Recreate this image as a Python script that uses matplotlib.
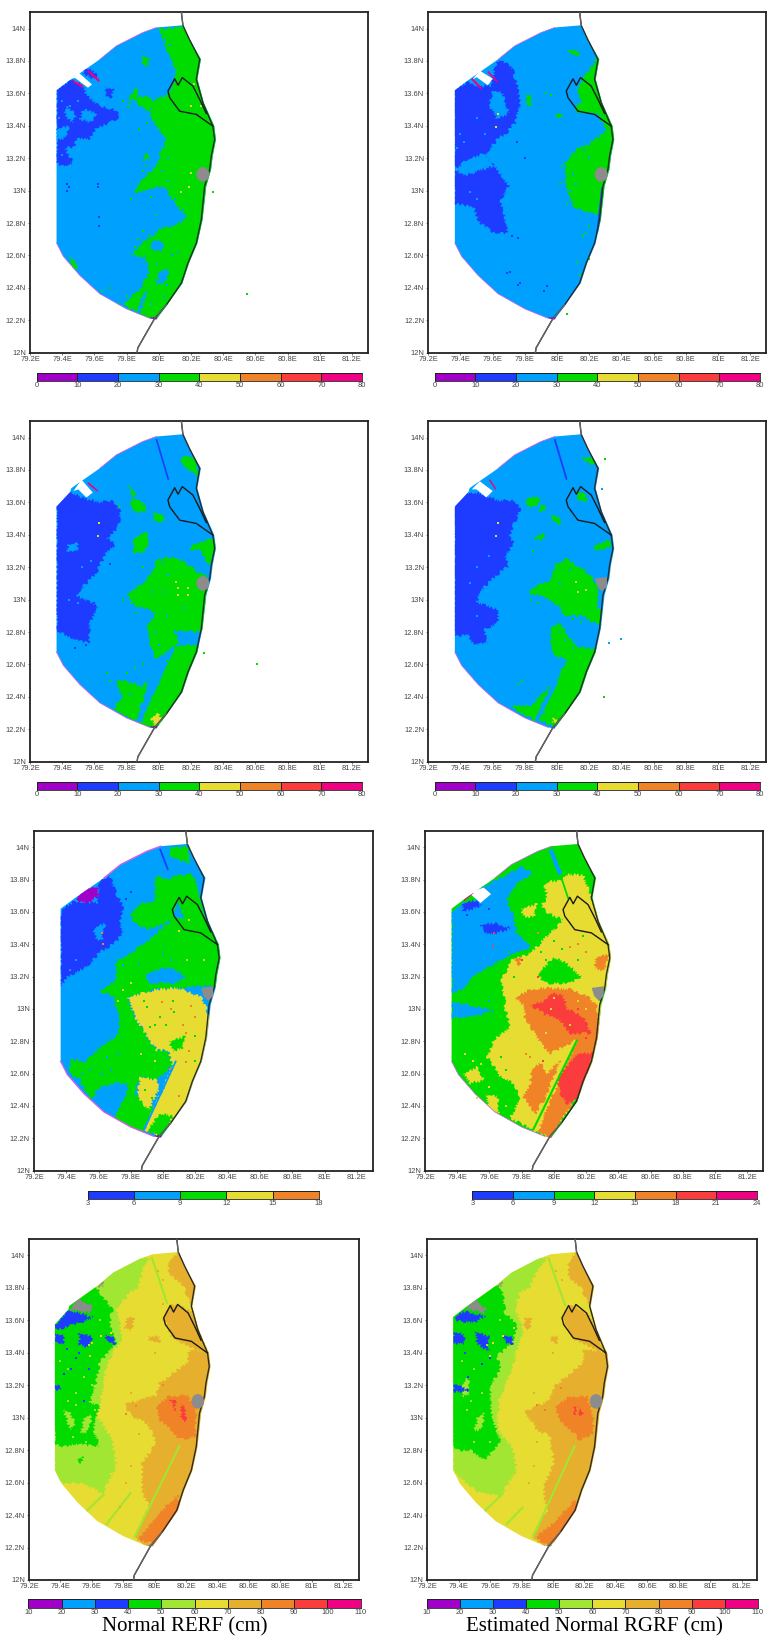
import matplotlib
matplotlib.use("Agg")
import matplotlib.pyplot as plt
from matplotlib.patches import Ellipse, Polygon

W, H = 767, 1638

COLORS = {
    "pu": "#a000c8", "sk": "#00a0ff", "bl": "#1e3cff", "gr": "#00dc00", "li": "#a0e632",
    "ye": "#e6dc32", "go": "#e6af2d", "or": "#f08228", "re": "#fa3c3c", "ma": "#f00082",
    "wh": "#ffffff", "ga": "#8c8c8c",
}

xtick_vals = [79.2, 79.4, 79.6, 79.8, 80, 80.2, 80.4, 80.6, 80.8, 81, 81.2]
xtick_labels = ["79.2E", "79.4E", "79.6E", "79.8E", "80E", "80.2E", "80.4E", "80.6E", "80.8E", "81E", "81.2E"]
ytick_vals = [12, 12.2, 12.4, 12.6, 12.8, 13, 13.2, 13.4, 13.6, 13.8, 14]
ytick_labels = ["12N", "12.2N", "12.4N", "12.6N", "12.8N", "13N", "13.2N", "13.4N", "13.6N", "13.8N", "14N"]

# radar coverage outline, lon/lat
domain = [(79.365, 13.62), (79.46, 13.69), (79.634, 13.81), (79.737, 13.893), (79.9, 13.975), (79.985, 14.006),
          (80.15, 14.02), (80.19, 13.934), (80.262, 13.81), (80.24, 13.687), (80.28, 13.542), (80.345, 13.398),
          (80.355, 13.315), (80.335, 13.212), (80.325, 13.13), (80.295, 13.027), (80.272, 12.82), (80.24, 12.676),
          (80.188, 12.553), (80.147, 12.429), (80.052, 12.295), (79.985, 12.205), (79.944, 12.212), (79.8, 12.27),
          (79.634, 12.363), (79.51, 12.476), (79.407, 12.594), (79.365, 12.676)]
coast = [(80.14, 14.105), (80.15, 14.02), (80.19, 13.934), (80.254, 13.81), (80.233, 13.687), (80.274, 13.542),
         (80.336, 13.398), (80.347, 13.315), (80.326, 13.212), (80.316, 13.13), (80.285, 13.027), (80.264, 12.82),
         (80.233, 12.676), (80.181, 12.553), (80.14, 12.429), (80.047, 12.295), (79.975, 12.212), (79.87, 12.03),
         (79.865, 12.0)]
district = [(80.295, 13.476), (80.254, 13.563), (80.212, 13.645), (80.146, 13.697), (80.12, 13.65), (80.099, 13.69),
            (80.057, 13.614), (80.068, 13.573), (80.13, 13.49), (80.233, 13.47), (80.336, 13.398)]
nw_arc = [(79.634, 13.81), (79.737, 13.893), (79.9, 13.975), (79.985, 14.006)]
sw_arc = [(79.944, 12.212), (79.8, 12.27), (79.634, 12.363), (79.51, 12.476), (79.407, 12.594), (79.365, 12.676)]
gray_disc = (80.274, 13.10)
gray_poly = [(80.235, 13.13), (80.31, 13.14), (80.31, 13.08), (80.28, 13.05), (80.25, 13.08)]
corner_cut = [(79.3, 13.66), (79.3, 13.575), (79.365, 13.575), (79.45, 13.665), (79.47, 13.74), (79.4, 13.74)]

# panel 1, top left
p1_layers = [
    ("gr", [(80.0, 14.0), (80.05, 13.87), (80.11, 13.73), (80.07, 13.6), (79.96, 13.56), (79.94, 13.46), (80.01, 13.36),
            (80.05, 13.32), (80.01, 13.23), (79.985, 13.15), (79.92, 13.09), (79.88, 13.05), (79.84, 12.98), (79.92, 13.01),
            (80.03, 13.03), (80.09, 12.94), (80.17, 12.84), (80.13, 12.8), (80.01, 12.76), (79.9, 12.68), (79.83, 12.6),
            (79.92, 12.59), (79.94, 12.49), (79.88, 12.39), (79.78, 12.29), (79.94, 12.21), (80.46, 12.21), (80.46, 14.03)]),
    ("gr", [(79.84, 13.63), (79.87, 13.63), (79.87, 13.57), (79.93, 13.59), (79.98, 13.53), (79.93, 13.49), (79.88, 13.53),
            (79.84, 13.57), (79.81, 13.51)]),
    ("gr", [(79.9, 13.83), (79.94, 13.82), (79.93, 13.77), (79.89, 13.78)]),
    ("gr", [(79.92, 13.24), (79.95, 13.2), (79.9, 13.19)]),
    ("gr", [(79.45, 12.6), (79.5, 12.53), (79.46, 12.51)]),
    ("sk", [(79.96, 12.7), (80.03, 12.68), (80.02, 12.62), (79.95, 12.64)]),
    ("sk", [(80.0, 12.5), (80.06, 12.52), (80.05, 12.44), (79.99, 12.42)]),
    ("bl", [(79.365, 13.62), (79.46, 13.69), (79.52, 13.65), (79.56, 13.58), (79.63, 13.52), (79.72, 13.5), (79.76, 13.46),
            (79.7, 13.42), (79.61, 13.39), (79.57, 13.32), (79.49, 13.32), (79.47, 13.26), (79.41, 13.27), (79.47, 13.17),
            (79.41, 13.15), (79.365, 13.17)]),
    ("sk", [(79.41, 13.48), (79.43, 13.52), (79.49, 13.46), (79.46, 13.42)]),
    ("sk", [(79.53, 13.5), (79.61, 13.48), (79.59, 13.42), (79.51, 13.44)]),
    ("sk", [(79.365, 13.38), (79.44, 13.4), (79.43, 13.33), (79.365, 13.31)]),
    ("bl", [(79.53, 13.76), (79.59, 13.74), (79.63, 13.69), (79.59, 13.69), (79.53, 13.725)]),
    ("bl", [(79.675, 13.635), (79.72, 13.625), (79.7, 13.57), (79.665, 13.585)]),
    ("sk", [(79.86, 12.24), (79.91, 12.38), (79.93, 12.38), (79.88, 12.23)]),
    ("wh", [(79.46, 13.69), (79.5, 13.73), (79.585, 13.655), (79.56, 13.635), (79.48, 13.695)]),
    ("pu", [(79.95, 12.22), (80.0, 12.22), (79.98, 12.19), (79.95, 12.19)]),
]
p1_strips = [("sk", [(79.985, 14.0), (80.06, 13.76)], 3), ("ma", [(79.47, 13.675), (79.53, 13.64)], 1.5),
             ("ma", [(79.56, 13.74), (79.63, 13.675)], 1.5)]
p1_specks = [("ye", [(80.2, 13.11), (80.19, 13.02), (80.14, 12.99), (80.22, 13.66), (80.26, 13.52), (80.2, 13.52)]),
             ("bl", [(79.43, 13.04), (79.43, 13.0), (79.63, 12.84), (79.63, 12.78), (79.62, 13.04), (79.62, 13.02), (79.44, 13.02)]),
             ("gr", [(80.55, 12.36), (80.34, 12.99), (79.92, 13.15), (79.9, 13.12), (79.86, 13.0), (79.83, 12.95), (79.95, 12.96),
                     (79.98, 12.85), (79.9, 12.75), (79.85, 12.65), (79.8, 12.35), (79.75, 12.3), (79.65, 12.38), (79.7, 12.4),
                     (79.93, 13.42), (79.88, 13.38), (79.78, 13.55), (79.97, 13.03), (79.94, 12.72), (79.87, 12.7)]),
             ("sk", [(80.0, 13.3), (80.03, 13.26), (80.06, 13.2), (80.02, 13.12), (80.06, 13.06), (80.1, 12.95), (80.05, 12.9),
                     (80.15, 12.88), (79.99, 12.55), (80.02, 12.5), (80.05, 12.42), (79.98, 12.45), (80.03, 12.35), (79.95, 12.3),
                     (80.08, 12.6), (80.12, 12.62), (80.03, 13.75), (80.07, 13.9), (80.04, 13.93), (79.4, 13.55), (79.45, 13.52),
                     (79.38, 13.45), (79.5, 13.55), (79.55, 13.5), (79.45, 13.25), (79.4, 13.22)])]

# panel 2, top right
p2_layers = [
    ("gr", [(80.165, 13.975), (80.25, 13.83), (80.22, 13.77), (80.155, 13.69), (80.13, 13.625), (80.145, 13.54), (80.1, 13.51),
            (80.145, 13.48), (80.25, 13.47), (80.31, 13.37), (80.21, 13.295), (80.12, 13.255), (80.05, 13.17), (80.05, 13.07),
            (80.08, 12.965), (80.11, 12.89), (80.23, 12.86), (80.27, 12.86), (80.25, 12.74), (80.37, 12.74), (80.37, 13.975)]),
    ("gr", [(80.07, 13.87), (80.14, 13.86), (80.13, 13.83), (80.08, 13.84)]),
    ("gr", [(79.81, 13.59), (79.84, 13.59), (79.84, 13.53), (79.81, 13.53)]),
    ("gr", [(79.99, 13.48), (80.04, 13.47), (80.03, 13.45), (79.99, 13.46)]),
    ("bl", [(79.36, 13.62), (79.45, 13.67), (79.52, 13.64), (79.59, 13.65), (79.62, 13.77), (79.64, 13.81), (79.72, 13.76),
            (79.75, 13.65), (79.77, 13.54), (79.74, 13.42), (79.69, 13.36), (79.63, 13.32), (79.55, 13.21), (79.63, 13.13),
            (79.7, 13.03), (79.65, 12.94), (79.67, 12.86), (79.69, 12.74), (79.61, 12.74), (79.52, 12.8), (79.48, 12.9),
            (79.36, 12.92)]),
    ("sk", [(79.44, 13.19), (79.55, 13.23), (79.61, 13.15), (79.5, 13.12), (79.42, 13.09), (79.37, 13.13)]),
    ("sk", [(79.6, 13.62), (79.66, 13.6), (79.7, 13.48), (79.63, 13.44), (79.58, 13.53)]),
    ("wh", [(79.47, 13.68), (79.52, 13.74), (79.6, 13.69), (79.57, 13.65), (79.5, 13.7)]),
    ("pu", [(79.95, 12.22), (80.0, 12.22), (79.98, 12.19), (79.95, 12.19)]),
]
p2_strips = [("ma", [(79.47, 13.69), (79.53, 13.63)], 1.5), ("ma", [(79.57, 13.735), (79.63, 13.67)], 1.2),
             ("bl", [(80.28, 13.02), (80.25, 12.74)], 1.2)]
p2_specks = [("bl", [(79.69, 12.49), (79.71, 12.5), (79.77, 12.43), (79.76, 12.42), (79.94, 12.41), (79.92, 12.38), (79.8, 13.2),
                     (79.75, 13.3), (79.72, 12.72), (79.76, 12.71)]),
             ("ye", [(79.63, 13.47), (79.62, 13.39)]),
             ("gr", [(79.93, 13.6), (79.96, 13.59), (80.13, 12.56), (80.06, 12.24), (80.03, 13.15), (80.02, 13.05), (80.06, 12.92),
                     (80.2, 12.78), (80.16, 12.72), (80.18, 12.74), (80.2, 12.58), (80.14, 12.48)]),
             ("sk", [(79.4, 13.35), (79.42, 13.3), (79.38, 13.26), (79.46, 12.99), (79.5, 12.95), (79.55, 13.35), (79.5, 13.45),
                     (80.1, 13.1), (80.12, 13.04), (80.2, 13.2), (80.17, 13.25), (80.08, 13.0)])]

# panel 3, second row left
p3_layers = [
    ("gr", [(79.8, 13.03), (79.9, 13.1), (79.97, 13.185), (79.985, 13.25), (80.11, 13.26), (80.22, 13.185), (80.3, 13.14),
            (80.3, 12.835), (80.27, 12.8), (80.09, 12.81), (80.13, 12.73), (80.07, 12.69), (79.985, 12.63), (79.94, 12.73),
            (79.93, 12.835), (79.985, 12.92), (79.86, 12.96)]),
    ("gr", [(80.09, 12.71), (80.3, 12.73), (80.3, 12.57), (80.05, 12.2), (79.87, 12.2), (79.96, 12.4)]),
    ("gr", [(79.74, 12.36), (79.78, 12.4), (79.73, 12.485), (79.76, 12.505), (79.84, 12.485), (79.9, 12.46), (79.94, 12.515),
            (79.86, 12.25), (79.72, 12.32)]),
    ("gr", [(80.14, 13.89), (80.23, 13.87), (80.25, 13.76), (80.15, 13.825)]),
    ("gr", [(79.84, 13.63), (79.9, 13.6), (79.93, 13.54), (79.86, 13.54), (79.82, 13.58)]),
    ("gr", [(79.81, 13.71), (79.86, 13.65), (79.83, 13.635)]),
    ("gr", [(79.975, 13.54), (80.04, 13.515), (80.01, 13.465), (79.965, 13.495)]),
    ("gr", [(79.85, 13.38), (79.92, 13.42), (79.945, 13.35), (79.9, 13.29), (79.84, 13.29)]),
    ("gr", [(80.22, 13.34), (80.34, 13.38), (80.36, 13.35), (80.32, 13.205), (80.25, 13.31), (80.19, 13.31)]),
    ("bl", [(79.365, 13.58), (79.44, 13.67), (79.52, 13.63), (79.63, 13.6), (79.72, 13.61), (79.76, 13.54), (79.75, 13.45),
            (79.675, 13.38), (79.73, 13.34), (79.675, 13.29), (79.61, 13.165), (79.53, 13.08), (79.49, 13.02), (79.63, 12.96),
            (79.57, 12.855), (79.57, 12.73), (79.49, 12.75), (79.365, 12.81)]),
    ("sk", [(79.44, 13.34), (79.5, 13.35), (79.49, 13.3), (79.43, 13.29)]),
    ("sk", [(79.56, 13.09), (79.62, 13.05), (79.56, 13.0)]),
    ("ye", [(79.95, 12.27), (80.0, 12.3), (80.02, 12.24), (79.98, 12.22)]),
    ("wh", [(79.47, 13.67), (79.52, 13.74), (79.59, 13.66), (79.55, 13.63), (79.5, 13.68)]),
    ("wh", corner_cut),
    ("pu", [(79.95, 12.22), (80.0, 12.22), (79.98, 12.19), (79.95, 12.19)]),
]
p3_strips = [("bl", [(79.985, 13.99), (80.06, 13.74)], 1.2), ("sk", [(79.87, 12.25), (80.09, 12.7)], 2.5),
             ("ma", [(79.56, 13.72), (79.62, 13.67)], 1.2)]
p3_specks = [("ye", [(80.11, 13.11), (80.12, 13.07), (80.12, 13.03), (80.18, 13.07), (80.18, 13.03)]),
             ("gr", [(80.61, 12.6), (80.28, 12.67), (79.78, 13.0), (79.83, 12.98), (79.86, 12.92), (79.7, 12.5), (79.68, 12.55),
                     (79.8, 12.55), (79.85, 12.58), (79.75, 13.58), (79.9, 13.2), (79.95, 13.1), (80.05, 12.62), (79.9, 12.6)]),
             ("sk", [(79.5, 12.98), (79.44, 13.0), (79.52, 13.2), (79.58, 13.24), (80.02, 13.23), (80.06, 13.15), (80.03, 13.05),
                     (79.96, 13.05), (80.15, 12.95), (80.05, 12.9), (79.98, 12.8), (80.0, 12.72), (79.9, 12.3), (79.82, 12.42)]),
             ("bl", [(79.6, 12.98), (79.55, 12.72), (79.48, 12.7), (79.7, 13.22)]),
             ("ye", [(79.63, 13.47), (79.62, 13.39)])]

# panel 4, second row right
p4_layers = [
    ("gr", [(79.81, 13.04), (79.9, 13.1), (79.96, 13.12), (79.99, 13.215), (80.06, 13.25), (80.16, 13.185), (80.25, 13.1),
            (80.25, 12.94), (80.28, 12.94), (80.27, 12.835), (80.16, 12.9), (80.04, 12.9), (80.02, 12.96), (79.9, 13.02)]),
    ("gr", [(79.97, 12.835), (80.02, 12.855), (80.06, 12.79), (80.12, 12.71), (80.28, 12.69), (80.2, 12.46), (80.02, 12.2),
            (79.88, 12.26), (80.0, 12.505), (80.06, 12.63), (79.98, 12.65), (79.96, 12.75)]),
    ("gr", [(79.72, 12.35), (79.83, 12.34), (79.96, 12.47), (79.86, 12.25), (79.75, 12.32)]),
    ("gr", [(79.81, 13.63), (79.89, 13.63), (79.88, 13.57), (79.81, 13.58)]),
    ("gr", [(79.9, 13.59), (79.93, 13.58), (79.92, 13.54), (79.89, 13.55)]),
    ("gr", [(79.97, 13.525), (80.03, 13.495), (80.01, 13.465), (79.96, 13.495)]),
    ("gr", [(79.85, 13.38), (79.92, 13.41), (79.91, 13.36)]),
    ("gr", [(80.22, 13.33), (80.34, 13.37), (80.34, 13.33), (80.25, 13.3)]),
    ("gr", [(80.12, 13.67), (80.18, 13.65), (80.18, 13.6), (80.13, 13.61)]),
    ("gr", [(80.15, 13.875), (80.25, 13.875), (80.23, 13.825)]),
    ("bl", [(79.36, 13.59), (79.43, 13.66), (79.5, 13.66), (79.59, 13.63), (79.63, 13.61), (79.74, 13.61), (79.77, 13.56),
            (79.74, 13.485), (79.7, 13.39), (79.73, 13.35), (79.68, 13.27), (79.7, 13.21), (79.61, 13.14), (79.52, 13.05),
            (79.5, 12.98), (79.64, 12.94), (79.63, 12.855), (79.55, 12.815), (79.57, 12.73), (79.48, 12.73), (79.44, 12.79),
            (79.36, 12.77)]),
    ("wh", [(79.47, 13.68), (79.52, 13.73), (79.6, 13.67), (79.56, 13.63), (79.5, 13.68)]),
    ("wh", corner_cut),
    ("ye", [(79.98, 12.27), (80.0, 12.26), (80.0, 12.24), (79.97, 12.24)]),
    ("pu", [(79.96, 12.21), (79.99, 12.21), (79.98, 12.18)]),
]
p4_strips = [("bl", [(79.985, 13.99), (80.06, 13.74)], 1.3), ("sk", [(79.87, 12.25), (80.0, 12.5)], 2.5),
             ("ma", [(79.58, 13.74), (79.62, 13.68)], 1)]
p4_specks = [("ye", [(80.12, 13.11), (80.13, 13.05), (80.18, 13.06), (79.63, 13.47), (79.62, 13.39)]),
             ("sk", [(80.4, 12.757), (80.28, 13.685), (80.32, 12.73), (79.5, 13.2), (79.46, 13.1), (79.58, 13.27), (79.63, 13.0),
                     (79.5, 12.9), (80.02, 12.8), (80.05, 12.75), (80.1, 12.7), (80.02, 13.1), (80.08, 13.18), (79.92, 12.3)]),
             ("gr", [(80.29, 12.4), (80.3, 13.87), (79.84, 13.0), (79.88, 12.98), (79.78, 12.5), (79.76, 12.48), (80.1, 12.88),
                     (80.15, 12.86), (79.85, 13.3), (80.02, 12.68)])]

# panel 5, third row left
p5_layers = [
    ("bl", [(79.365, 13.61), (79.45, 13.665), (79.59, 13.655), (79.61, 13.8), (79.67, 13.82), (79.7, 13.735), (79.75, 13.63),
            (79.73, 13.53), (79.75, 13.47), (79.7, 13.405), (79.61, 13.355), (79.54, 13.27), (79.41, 13.2), (79.365, 13.13)]),
    ("gr", [(79.8, 13.59), (79.86, 13.65), (79.95, 13.67), (79.95, 13.82), (80.03, 13.8), (80.06, 13.82), (80.19, 13.83),
            (80.21, 13.735), (80.23, 13.67), (80.27, 13.55), (80.33, 13.43), (80.44, 13.345), (80.44, 13.14), (80.25, 13.14),
            (80.08, 13.13), (79.96, 13.12), (79.88, 13.1), (79.78, 13.07), (79.82, 12.96), (79.9, 12.83), (79.96, 12.745),
            (80.03, 12.745), (80.06, 12.66), (79.96, 12.56), (79.86, 12.58), (79.82, 12.48), (79.9, 12.42), (79.96, 12.375),
            (79.86, 12.23), (79.69, 12.33), (79.77, 12.46), (79.78, 12.54), (79.69, 12.54), (79.61, 12.52), (79.55, 12.44),
            (79.485, 12.56), (79.42, 12.6), (79.43, 12.685), (79.52, 12.675), (79.6, 12.75), (79.72, 12.84), (79.73, 12.93),
            (79.69, 13.08), (79.61, 13.11), (79.71, 13.18), (79.71, 13.3), (79.82, 13.355), (79.96, 13.47), (80.06, 13.55),
            (79.9, 13.49), (79.82, 13.53)]),
    ("gr", [(80.04, 14.0), (80.16, 14.0), (80.16, 13.9), (80.05, 13.94)]),
    ("ye", [(79.78, 13.07), (79.88, 13.1), (79.96, 13.12), (80.08, 13.13), (80.23, 13.08), (80.3, 12.93), (80.3, 12.725),
            (80.23, 12.6), (80.17, 12.435), (80.06, 12.29), (79.96, 12.22), (79.88, 12.25), (80.06, 12.64), (80.03, 12.745),
            (79.96, 12.745), (79.9, 12.83), (79.82, 12.96)]),
    ("ye", [(79.86, 12.58), (79.96, 12.56), (79.98, 12.52), (79.91, 12.375), (79.84, 12.46)]),
    ("gr", [(79.9, 12.24), (79.98, 12.355), (80.06, 12.335), (80.0, 12.21)]),
    ("gr", [(80.04, 12.8), (80.14, 12.83), (80.12, 12.76), (80.06, 12.74)]),
    ("sk", [(79.9, 13.22), (79.96, 13.24), (80.04, 13.26), (80.14, 13.2), (80.08, 13.16), (79.91, 13.16)]),
    ("sk", [(80.09, 13.665), (80.13, 13.55), (80.06, 13.57)]),
    ("pu", [(79.46, 13.68), (79.51, 13.74), (79.59, 13.76), (79.6, 13.7), (79.53, 13.65)]),
    ("pu", [(79.95, 12.22), (80.0, 12.22), (79.98, 12.19), (79.95, 12.19)]),
    ("sk", [(79.57, 13.5), (79.64, 13.53), (79.62, 13.42), (79.58, 13.44)]),
]
p5_strips = [("bl", [(79.98, 13.99), (80.03, 13.86)], 1.3), ("sk", [(79.88, 12.25), (80.08, 12.68)], 1.3),
             ("sk", [(79.61, 12.36), (79.74, 12.47)], 2)]
p5_specks = [("or", [(79.99, 13.04), (80.17, 13.02), (80.14, 12.85), (80.14, 12.67), (80.1, 12.46), (80.16, 12.74), (80.04, 12.63),
                     (80.05, 13.0), (79.63, 13.4), (79.62, 13.47), (80.12, 12.9), (80.2, 12.95)]),
             ("gr", [(79.9, 13.01), (79.92, 12.89), (80.1, 12.8), (80.2, 12.83), (79.98, 12.95), (80.2, 12.68), (79.95, 12.9),
                     (79.89, 12.5), (79.93, 12.45), (80.02, 12.9), (80.06, 13.05), (79.88, 13.05), (80.07, 12.98)]),
             ("ye", [(79.75, 13.12), (79.8, 13.16), (79.72, 13.05), (79.95, 12.68), (79.86, 12.72), (80.15, 13.3), (80.25, 13.3),
                     (80.1, 13.48), (80.16, 13.55)]),
             ("sk", [(79.43, 13.02), (79.46, 13.03), (79.44, 12.99), (79.42, 13.24), (79.46, 13.3), (79.75, 13.27), (79.85, 13.28),
                     (80.0, 13.34), (80.05, 13.3), (79.85, 13.7), (79.88, 13.68), (79.5, 12.6), (79.55, 12.62), (79.62, 12.6),
                     (79.68, 12.62), (79.72, 12.72), (79.65, 12.7)]),
             ("bl", [(79.8, 13.72), (79.77, 13.68)])]

# panel 6, third row right
p6_layers = [
    ("sk", [(79.365, 13.6), (79.44, 13.655), (79.5, 13.645), (79.545, 13.745), (79.67, 13.81), (79.81, 13.88), (79.865, 13.84),
            (79.77, 13.78), (79.71, 13.675), (79.75, 13.57), (79.77, 13.47), (79.855, 13.385), (79.77, 13.345), (79.63, 13.28),
            (79.5, 13.2), (79.43, 13.12), (79.365, 13.1)]),
    ("sk", [(79.365, 13.045), (79.46, 13.025), (79.63, 12.99), (79.565, 12.975), (79.48, 12.95), (79.365, 12.95)]),
    ("bl", [(79.43, 13.65), (79.5, 13.67), (79.565, 13.64), (79.52, 13.63), (79.44, 13.6)]),
    ("bl", [(79.545, 13.52), (79.63, 13.53), (79.73, 13.5), (79.68, 13.48), (79.59, 13.46)]),
    ("wh", [(79.47, 13.72), (79.565, 13.75), (79.61, 13.71), (79.545, 13.655)]),
    ("ye", [(79.94, 13.77), (79.98, 13.79), (80.04, 13.79), (80.07, 13.83), (80.18, 13.83), (80.23, 13.695), (80.29, 13.53),
            (80.37, 13.385), (80.37, 13.14), (80.27, 13.12), (80.3, 13.01), (80.29, 12.83), (80.22, 12.6), (80.1, 12.395),
            (79.97, 12.2), (79.73, 12.325), (79.79, 12.46), (79.75, 12.54), (79.67, 12.58), (79.63, 12.64), (79.585, 12.705),
            (79.63, 12.81), (79.73, 12.89), (79.7, 12.99), (79.69, 13.1), (79.67, 13.16), (79.73, 13.3), (79.855, 13.345),
            (79.98, 13.47), (80.06, 13.55), (79.97, 13.59), (79.92, 13.63), (79.96, 13.695)]),
    ("ye", [(79.8, 13.62), (79.9, 13.65), (79.875, 13.57), (79.81, 13.57)]),
    ("ye", [(79.44, 12.6), (79.525, 12.64), (79.565, 12.56), (79.48, 12.54)]),
    ("ye", [(79.58, 12.47), (79.65, 12.46), (79.66, 12.36), (79.6, 12.36)]),
    ("gr", [(79.905, 13.22), (80.0, 13.32), (80.08, 13.28), (80.165, 13.2), (80.1, 13.16), (79.94, 13.16)]),
    ("or", [(79.76, 13.07), (79.855, 13.12), (79.96, 13.13), (80.1, 13.12), (80.205, 13.08), (80.27, 13.01), (80.28, 12.83),
            (80.21, 12.6), (80.1, 12.395), (79.98, 12.2), (79.9, 12.24), (80.04, 12.58), (80.145, 12.81), (79.98, 12.725),
            (79.915, 12.79), (79.82, 12.95), (79.815, 13.025)]),
    ("or", [(79.855, 12.62), (79.915, 12.665), (79.96, 12.6), (80.04, 12.685), (79.94, 12.44), (79.885, 12.355), (79.81, 12.46),
            (79.855, 12.54)]),
    ("or", [(80.26, 13.32), (80.35, 13.34), (80.31, 13.24), (80.255, 13.25)]),
    ("or", [(79.75, 13.31), (79.8, 13.32), (79.78, 13.26)]),
    ("re", [(79.855, 13.025), (79.94, 13.045), (79.98, 13.1), (80.06, 13.08), (80.08, 13.0), (80.185, 12.95), (80.225, 12.85),
            (80.1, 12.85), (80.04, 12.93), (79.94, 12.97)]),
    ("re", [(80.145, 12.725), (80.25, 12.725), (80.205, 12.6), (80.145, 12.44), (80.08, 12.415), (80.03, 12.5), (80.03, 12.58),
            (80.1, 12.665)]),
    ("pu", [(79.96, 12.21), (79.99, 12.21), (79.98, 12.18)]),
]
p6_strips = [("sk", [(79.98, 13.985), (80.04, 13.83)], 3), ("gr", [(80.04, 13.83), (80.09, 13.68)], 1.3),
             ("gr", [(79.87, 12.25), (80.145, 12.81)], 1.5), ("ma", [(79.44, 13.67), (79.5, 13.72)], 1)]
p6_specks = [("re", [(79.63, 13.47), (79.62, 13.39), (79.9, 13.2), (80.15, 13.0), (79.8, 13.3), (79.93, 12.68), (80.2, 12.82)]),
             ("ye", [(79.98, 13.0), (80.1, 12.9), (80.15, 13.05), (79.95, 12.85), (80.2, 13.0), (80.0, 13.07), (79.75, 13.0),
                     (79.78, 13.15), (79.45, 12.72), (79.5, 12.68), (79.55, 12.66), (79.6, 12.52), (79.52, 12.45), (79.7, 12.4)]),
             ("or", [(79.85, 12.7), (79.83, 12.72), (80.2, 13.35), (79.9, 13.47), (80.0, 13.42), (80.1, 13.38), (80.15, 13.4)]),
             ("gr", [(80.0, 13.42), (80.15, 13.3), (79.95, 13.3), (79.87, 13.4), (79.92, 13.35), (80.05, 13.37), (79.75, 13.2),
                     (79.72, 13.35), (80.18, 13.45), (79.67, 12.7), (79.7, 12.62)]),
             ("sk", [(79.5, 13.26), (79.45, 13.22), (79.6, 13.05), (79.55, 13.0)]),
             ("bl", [(79.46, 13.58), (79.6, 13.62)])]

# panel 7, bottom left
p7_layers = [
    ("li", [(79.33, 13.6), (79.54, 13.8), (79.65, 13.86), (79.71, 13.9), (79.86, 13.98), (79.965, 13.985), (79.925, 13.915),
            (79.9, 13.81), (79.84, 13.77), (79.755, 13.665), (79.8, 13.48), (79.73, 13.4), (79.69, 13.295), (79.65, 13.09),
            (79.63, 13.01), (79.73, 12.865), (79.755, 12.7), (79.67, 12.535), (79.52, 12.6), (79.395, 12.6), (79.365, 12.68)]),
    ("go", [(80.09, 13.965), (80.16, 14.02), (80.28, 13.79), (80.24, 13.69), (80.17, 13.83), (80.09, 13.89)]),
    ("go", [(80.05, 13.615), (80.1, 13.69), (80.145, 13.7), (80.24, 13.645), (80.33, 13.42), (80.37, 13.38), (80.22, 13.44),
            (80.11, 13.49), (80.08, 13.565)]),
    ("go", [(80.22, 13.42), (80.37, 13.4), (80.37, 13.23), (80.33, 13.01), (80.33, 12.72), (80.2, 12.515), (80.07, 12.25),
            (79.945, 12.205), (79.87, 12.26), (79.965, 12.45), (79.92, 12.555), (79.92, 12.72), (80.01, 12.845), (79.955, 12.965),
            (79.86, 13.0), (79.81, 13.08), (80.01, 13.14), (80.03, 13.21), (80.21, 13.34)]),
    ("go", [(79.83, 13.625), (79.87, 13.615), (79.85, 13.53), (79.81, 13.55)]),
    ("go", [(79.965, 13.5), (80.03, 13.5), (80.03, 13.46), (79.965, 13.47)]),
    ("or", [(80.01, 13.07), (80.09, 13.13), (80.2, 13.14), (80.26, 13.07), (80.26, 12.885), (80.16, 12.865), (80.09, 12.945),
            (80.03, 12.985)]),
    ("or", [(80.01, 12.39), (80.135, 12.515), (80.17, 12.46), (80.07, 12.27), (80.01, 12.215), (79.9, 12.25)]),
    ("re", [(80.1, 13.11), (80.135, 13.11), (80.125, 13.04)]),
    ("re", [(80.17, 13.08), (80.19, 13.07), (80.2, 12.97), (80.17, 12.985)]),
    ("gr", [(79.33, 13.6), (79.52, 13.79), (79.63, 13.8), (79.67, 13.74), (79.73, 13.665), (79.71, 13.57), (79.755, 13.46),
            (79.65, 13.34), (79.63, 13.235), (79.585, 13.09), (79.65, 13.07), (79.61, 12.925), (79.65, 12.82), (79.5, 12.84),
            (79.415, 12.82), (79.365, 12.845)]),
    ("li", [(79.42, 13.05), (79.46, 13.03), (79.5, 12.95), (79.46, 12.93)]),
    ("li", [(79.55, 13.0), (79.6, 13.02), (79.58, 12.92), (79.53, 12.9)]),
    ("gr", [(79.5, 12.74), (79.545, 12.76), (79.535, 12.72)]),
    ("bl", [(79.375, 13.575), (79.45, 13.665), (79.61, 13.615), (79.52, 13.585), (79.375, 13.54)]),
    ("bl", [(79.365, 13.52), (79.425, 13.5), (79.415, 13.45), (79.365, 13.46)]),
    ("bl", [(79.52, 13.52), (79.6, 13.5), (79.585, 13.43), (79.52, 13.45)]),
    ("bl", [(79.69, 13.51), (79.745, 13.49), (79.745, 13.45), (79.69, 13.47)]),
    ("bl", [(79.365, 13.2), (79.395, 13.2), (79.395, 13.17), (79.365, 13.17)]),
    ("wh", corner_cut),
    ("ga", [(79.46, 13.665), (79.51, 13.73), (79.605, 13.69), (79.585, 13.645), (79.52, 13.655)]),
    ("ga", [(79.64, 13.81), (79.67, 13.84), (79.675, 13.81)]),
    ("ga", [(79.945, 12.215), (80.0, 12.225), (79.965, 12.18)]),
]
p7_strips = [("li", [(79.98, 13.99), (80.08, 13.7)], 1.5), ("li", [(79.87, 12.26), (80.16, 12.83)], 1.5),
             ("li", [(79.56, 12.42), (79.68, 12.53)], 1.5), ("li", [(79.69, 12.34), (79.85, 12.54)], 1.5)]
p7_specks = [("or", [(79.82, 13.02), (79.88, 13.07), (80.1, 12.4), (80.15, 12.52), (80.05, 13.2)]),
             ("bl", [(79.5, 13.37), (79.42, 13.27), (79.47, 13.3), (79.55, 13.1), (79.52, 13.4), (79.44, 13.42), (79.58, 13.3)]),
             ("ye", [(79.6, 13.46), (79.59, 13.38), (79.66, 13.5), (79.78, 13.3), (79.72, 13.52), (79.8, 12.75), (79.72, 12.65)]),
             ("go", [(80.05, 13.7), (80.02, 13.9), (80.05, 13.85), (80.0, 13.4), (79.85, 13.15), (79.9, 12.9), (79.85, 12.7),
                     (79.82, 12.6), (79.78, 12.45)]),
             ("li", [(79.45, 13.3), (79.5, 13.15), (79.55, 13.25), (79.45, 13.1), (79.6, 13.2), (79.4, 13.35), (79.5, 13.08),
                     (79.62, 13.05), (79.48, 12.88), (79.56, 12.85), (79.58, 13.45), (79.65, 13.6)])]

# panel 8, bottom right
p8_layers = [
    ("li", [(79.33, 13.62), (79.5, 13.77), (79.655, 13.86), (79.815, 13.96), (79.96, 13.985), (79.9, 13.9), (79.855, 13.81),
            (79.79, 13.77), (79.76, 13.665), (79.815, 13.52), (79.77, 13.42), (79.74, 13.295), (79.655, 13.11), (79.645, 12.925),
            (79.74, 12.82), (79.77, 12.68), (79.665, 12.515), (79.54, 12.535), (79.42, 12.62), (79.365, 12.68)]),
    ("go", [(80.1, 13.955), (80.15, 14.02), (80.28, 13.79), (80.24, 13.69), (80.17, 13.81), (80.1, 13.87)]),
    ("go", [(80.055, 13.615), (80.1, 13.685), (80.14, 13.69), (80.235, 13.625), (80.32, 13.42), (80.365, 13.38), (80.215, 13.45),
            (80.12, 13.49), (80.08, 13.565)]),
    ("go", [(80.195, 13.42), (80.365, 13.4), (80.365, 13.235), (80.32, 13.01), (80.32, 12.72), (80.195, 12.515), (80.07, 12.25),
            (79.94, 12.205), (79.865, 12.26), (79.96, 12.43), (79.94, 12.575), (80.005, 12.72), (79.98, 12.885), (79.9, 12.925),
            (79.815, 13.03), (79.98, 13.11), (80.005, 13.19), (80.195, 13.34)]),
    ("go", [(79.825, 13.615), (79.865, 13.615), (79.845, 13.535), (79.815, 13.55)]),
    ("go", [(79.98, 13.5), (80.035, 13.5), (80.025, 13.46), (79.98, 13.47)]),
    ("or", [(80.015, 13.07), (80.11, 13.13), (80.215, 13.13), (80.245, 13.05), (80.26, 12.905), (80.17, 12.865), (80.09, 12.945),
            (80.045, 12.985)]),
    ("or", [(80.005, 12.35), (80.14, 12.495), (80.15, 12.45), (80.045, 12.25), (79.94, 12.215), (79.9, 12.27)]),
    ("re", [(80.13, 13.07), (80.15, 13.07), (80.14, 13.01)]),
    ("re", [(80.17, 13.07), (80.19, 13.02), (80.18, 13.0), (80.165, 13.04)]),
    ("gr", [(79.33, 13.62), (79.5, 13.76), (79.625, 13.83), (79.675, 13.79), (79.695, 13.645), (79.77, 13.565), (79.74, 13.46),
            (79.645, 13.38), (79.665, 13.295), (79.6, 13.195), (79.6, 13.09), (79.625, 12.97), (79.665, 12.845), (79.57, 12.74),
            (79.475, 12.8), (79.365, 12.8)]),
    ("li", [(79.52, 13.0), (79.56, 13.03), (79.55, 12.93), (79.5, 12.92)]),
    ("li", [(79.42, 13.2), (79.46, 13.25), (79.47, 13.15), (79.43, 13.13)]),
    ("bl", [(79.37, 13.615), (79.43, 13.655), (79.57, 13.625), (79.495, 13.585), (79.38, 13.6)]),
    ("bl", [(79.365, 13.53), (79.435, 13.51), (79.435, 13.45), (79.365, 13.46)]),
    ("bl", [(79.505, 13.53), (79.59, 13.5), (79.59, 13.41), (79.52, 13.45)]),
    ("bl", [(79.685, 13.51), (79.745, 13.49), (79.74, 13.45), (79.695, 13.46)]),
    ("bl", [(79.365, 13.21), (79.4, 13.2), (79.475, 13.16), (79.365, 13.16)]),
    ("ga", [(79.44, 13.665), (79.505, 13.73), (79.58, 13.665), (79.55, 13.645), (79.485, 13.665)]),
    ("ga", [(79.645, 13.81), (79.675, 13.84), (79.675, 13.81)]),
    ("ga", [(79.945, 12.215), (80.0, 12.225), (79.965, 12.18)]),
]
p8_strips = [("li", [(79.97, 13.985), (80.08, 13.685)], 1.5), ("li", [(79.87, 12.26), (80.14, 12.83)], 1.5),
             ("li", [(79.56, 12.42), (79.685, 12.535)], 1.5), ("li", [(79.7, 12.34), (79.81, 12.45)], 1.5)]
p8_specks = [("or", [(79.9, 13.08), (79.95, 13.05), (80.1, 12.4), (80.05, 13.18)]),
             ("bl", [(79.42, 13.35), (79.5, 13.3), (79.46, 13.25), (79.6, 13.37), (79.44, 13.4), (79.55, 13.33)]),
             ("ye", [(79.62, 13.46), (79.6, 13.38), (79.68, 13.5), (79.8, 13.3), (79.75, 13.55), (79.82, 12.75)]),
             ("go", [(80.02, 13.9), (80.06, 13.85), (80.0, 13.4), (79.88, 13.15), (79.9, 12.85), (79.88, 12.7), (79.85, 12.6)]),
             ("li", [(79.5, 13.3), (79.55, 13.15), (79.45, 13.05), (79.6, 12.85), (79.42, 13.35), (79.62, 13.05), (79.5, 12.85),
                     (79.58, 13.45), (79.66, 13.6), (79.48, 13.1)])]

# colorbar classes
cb_names_80 = ["pu", "bl", "sk", "gr", "ye", "or", "re", "ma"]
cb_bounds_80 = [0, 10, 20, 30, 40, 50, 60, 70, 80]
cb_names_18 = ["bl", "sk", "gr", "ye", "or"]
cb_bounds_18 = [3, 6, 9, 12, 15, 18]
cb_names_24 = ["bl", "sk", "gr", "ye", "or", "re", "ma"]
cb_bounds_24 = [3, 6, 9, 12, 15, 18, 21, 24]
cb_names_110 = ["pu", "sk", "bl", "gr", "li", "ye", "go", "or", "re", "ma"]
cb_bounds_110 = [10, 20, 30, 40, 50, 60, 70, 80, 90, 100, 110]


def px_rect(left, top, right, bottom):
    return [left / W, 1 - bottom / H, (right - left) / W, (bottom - top) / H]


def draw_map(fig, rect, base, layers, strips, specks, gray, arc_width):
    ax = fig.add_axes(px_rect(*rect))
    cover = Polygon(domain, closed=True, facecolor=COLORS[base], edgecolor="none", zorder=1)
    ax.add_patch(cover)
    for name, poly in layers:
        patch = Polygon(poly, closed=True, facecolor=COLORS[name], edgecolor="none", zorder=2)
        ax.add_patch(patch)
        if name != "wh":
            patch.set_clip_path(cover)
            patch.set_sketch_params(scale=1.5, length=4, randomness=7)
    for name, line, width in strips:
        ln, = ax.plot(*zip(*line), color=COLORS[name], lw=width, solid_capstyle="butt", zorder=3)
        ln.set_clip_path(cover)
    for name, pts in specks:
        ax.scatter(*zip(*pts), s=4, marker="s", color=COLORS[name], linewidths=0, zorder=3)
    if arc_width > 0:
        ax.plot(*zip(*nw_arc), color="#d060e8", lw=arc_width, zorder=3)
        ax.plot(*zip(*sw_arc), color="#d060e8", lw=arc_width, zorder=3)
    if gray == "disc":
        ax.add_patch(Ellipse(gray_disc, 0.08, 0.09, facecolor=COLORS["ga"], edgecolor="none", zorder=5))
    else:
        ax.add_patch(Polygon(gray_poly, closed=True, facecolor=COLORS["ga"], edgecolor="none", zorder=5))
    ax.plot(*zip(*coast), color="#2a2a2a", lw=1.0, zorder=4)
    ax.plot(*zip(*coast[:2]), color="#666666", lw=0.9, zorder=4)
    ax.plot(*zip(*coast[-4:]), color="#666666", lw=0.9, zorder=4)
    ax.plot(*zip(*district), color="#1a1a1a", lw=1.0, zorder=4)
    ax.set_xlim(79.2, 81.3)
    ax.set_ylim(12, 14.1)
    ax.set_xticks(xtick_vals, xtick_labels)
    ax.set_yticks(ytick_vals, ytick_labels)
    ax.tick_params(length=1.5, width=0.5, labelsize=5.4, labelcolor="#444444", color="#444444")
    ax.tick_params(axis="x", pad=0.8)
    ax.tick_params(axis="y", pad=1.5)
    for lab in ax.get_xticklabels() + ax.get_yticklabels():
        lab.set_fontfamily("Liberation Sans")
    for sp in ax.spines.values():
        sp.set_linewidth(1.3)
        sp.set_color("#222222")
    return ax


def draw_colorbar(fig, rect, names, bounds):
    cax = fig.add_axes(px_rect(*rect))
    lefts = bounds[:-1]
    widths = [b - a for a, b in zip(bounds[:-1], bounds[1:])]
    cax.bar(lefts, [1] * len(names), widths, align="edge", color=[COLORS[n] for n in names],
            edgecolor="#222222", linewidth=0.7)
    cax.set_xlim(bounds[0], bounds[-1])
    cax.set_ylim(0, 1)
    cax.set_yticks([])
    cax.set_xticks(bounds, [str(b) for b in bounds])
    cax.tick_params(length=0, pad=1.0, labelsize=5.4, labelcolor="#444444")
    for lab in cax.get_xticklabels():
        lab.set_fontfamily("Liberation Sans")
    for sp in cax.spines.values():
        sp.set_linewidth(0.6)
        sp.set_color("#222222")


fig = plt.figure(figsize=(W / 100, H / 100), dpi=100)

draw_map(fig, (30, 12.3, 368, 352.7), "sk", p1_layers, p1_strips, p1_specks, "disc", 0.5)
draw_map(fig, (428.3, 12.3, 766.3, 352.7), "sk", p2_layers, p2_strips, p2_specks, "disc", 0.5)
draw_map(fig, (30, 421.3, 368, 761.7), "sk", p3_layers, p3_strips, p3_specks, "disc", 0.6)
draw_map(fig, (428.3, 421.3, 766.3, 761.7), "sk", p4_layers, p4_strips, p4_specks, "poly", 0.6)
draw_map(fig, (34, 831, 373, 1170.7), "sk", p5_layers, p5_strips, p5_specks, "poly", 1.0)
draw_map(fig, (425, 831, 763.3, 1170.7), "gr", p6_layers, p6_strips, p6_specks, "poly", 0.5)
draw_map(fig, (29, 1239, 359, 1580), "ye", p7_layers, p7_strips, p7_specks, "disc", 0)
draw_map(fig, (427.3, 1239, 757.3, 1580), "ye", p8_layers, p8_strips, p8_specks, "disc", 0)

draw_colorbar(fig, (36.7, 373, 362, 381), cb_names_80, cb_bounds_80)
draw_colorbar(fig, (434.7, 373, 760, 381), cb_names_80, cb_bounds_80)
draw_colorbar(fig, (36.7, 782, 362, 790), cb_names_80, cb_bounds_80)
draw_colorbar(fig, (434.7, 782, 760, 790), cb_names_80, cb_bounds_80)
draw_colorbar(fig, (87.7, 1190.7, 319, 1199), cb_names_18, cb_bounds_18)
draw_colorbar(fig, (472.3, 1191, 757, 1199), cb_names_24, cb_bounds_24)
draw_colorbar(fig, (28.3, 1599, 360.7, 1608), cb_names_110, cb_bounds_110)
draw_colorbar(fig, (426.7, 1599, 758, 1608), cb_names_110, cb_bounds_110)

fig.text(185 / W, 1 - 1627 / H, "Normal RERF (cm)", family="Liberation Serif", fontsize=15, ha="center", va="center")
fig.text(594 / W, 1 - 1627 / H, "Estimated Normal RGRF (cm)", family="Liberation Serif", fontsize=15, ha="center", va="center")

fig.savefig("out.png", dpi=100)
